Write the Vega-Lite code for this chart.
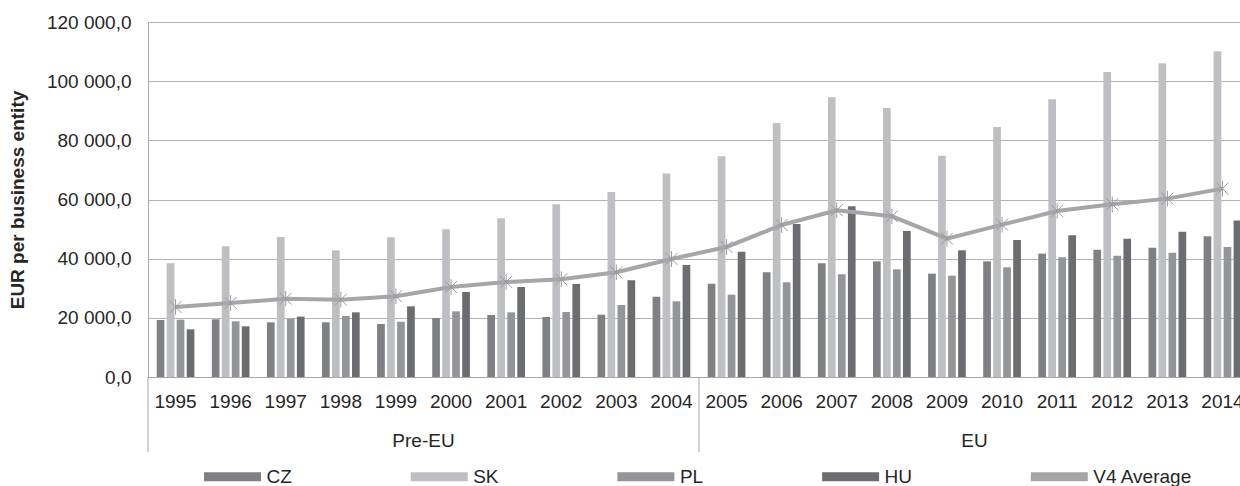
{
  "$schema": "https://vega.github.io/schema/vega-lite/v6.json",
  "width": 1102,
  "height": 355,
  "autosize": {"type": "none"},
  "padding": {"left": 148, "top": 22, "right": 0, "bottom": 109},
  "config": {
    "font": "Liberation Sans",
    "locale": {"number": {"decimal": ",", "thousands": " ", "grouping": [3], "currency": ["", ""]}},
    "view": {"stroke": null},
    "axis": {"labelColor": "#262626", "labelFontSize": 19, "labelFont": "Liberation Sans"}
  },
  "data": {
    "values": [
      {"year": "1995", "CZ": 19270, "SK": 38430, "PL": 19380, "HU": 16115, "avg": 23670},
      {"year": "1996", "CZ": 19500, "SK": 44180, "PL": 18820, "HU": 17130, "avg": 25020},
      {"year": "1997", "CZ": 18480, "SK": 47330, "PL": 19720, "HU": 20400, "avg": 26480},
      {"year": "1998", "CZ": 18480, "SK": 42830, "PL": 20620, "HU": 21860, "avg": 26150},
      {"year": "1999", "CZ": 17920, "SK": 47220, "PL": 18710, "HU": 23890, "avg": 27270},
      {"year": "2000", "CZ": 19950, "SK": 49930, "PL": 22200, "HU": 28740, "avg": 30430},
      {"year": "2001", "CZ": 20960, "SK": 53650, "PL": 21860, "HU": 30430, "avg": 32120},
      {"year": "2002", "CZ": 20290, "SK": 58380, "PL": 21980, "HU": 31440, "avg": 33020},
      {"year": "2003", "CZ": 21070, "SK": 62550, "PL": 24340, "HU": 32680, "avg": 35390},
      {"year": "2004", "CZ": 27160, "SK": 68750, "PL": 25580, "HU": 37870, "avg": 39900},
      {"year": "2005", "CZ": 31560, "SK": 74610, "PL": 27840, "HU": 42380, "avg": 43950},
      {"year": "2006", "CZ": 35390, "SK": 85880, "PL": 32010, "HU": 51730, "avg": 51390},
      {"year": "2007", "CZ": 38430, "SK": 94560, "PL": 34710, "HU": 57700, "avg": 56350},
      {"year": "2008", "CZ": 39110, "SK": 90950, "PL": 36400, "HU": 49360, "avg": 54320},
      {"year": "2009", "CZ": 34940, "SK": 74830, "PL": 34260, "HU": 42830, "avg": 46770},
      {"year": "2010", "CZ": 39110, "SK": 84530, "PL": 37080, "HU": 46320, "avg": 51500},
      {"year": "2011", "CZ": 41700, "SK": 93880, "PL": 40460, "HU": 47900, "avg": 56120},
      {"year": "2012", "CZ": 43050, "SK": 103120, "PL": 41020, "HU": 46770, "avg": 58380},
      {"year": "2013", "CZ": 43730, "SK": 106050, "PL": 42040, "HU": 49140, "avg": 60290},
      {"year": "2014", "CZ": 47560, "SK": 110110, "PL": 43950, "HU": 52860, "avg": 63680}
    ]
  },
  "layer": [
    {
      "transform": [{"fold": ["CZ", "SK", "PL", "HU"], "as": ["series", "value"]}],
      "mark": {"type": "bar"},
      "encoding": {
        "x": {
          "field": "year", "type": "ordinal",
          "scale": {"type": "band", "paddingInner": 0, "paddingOuter": 0},
          "axis": {"orient": "bottom", "title": null, "labelAngle": 0, "ticks": false, "domain": true, "domainColor": "#a6a6a6", "domainWidth": 1, "labelPadding": 15, "grid": false}
        },
        "xOffset": {"field": "series", "sort": ["CZ", "SK", "PL", "HU"], "scale": {"paddingInner": 0.23, "paddingOuter": 0.87}},
        "y": {
          "field": "value", "type": "quantitative",
          "scale": {"domain": [0, 120000]},
          "axis": {"title": "EUR per business entity", "titleFontSize": 19, "titleFontWeight": "bold", "titleColor": "#262626", "titlePadding": 19, "values": [0, 20000, 40000, 60000, 80000, 100000, 120000], "format": ",.1f", "ticks": false, "labelPadding": 17, "domainColor": "#a6a6a6", "gridColor": "#b4b4b4", "gridWidth": 1}
        },
        "color": {
          "field": "series", "type": "nominal",
          "scale": {"domain": ["CZ", "SK", "PL", "HU", "V4 Average"], "range": ["#7f8084", "#bebfc2", "#949598", "#6c6d71", "#a6a6a9"]},
          "legend": {
            "title": null, "orient": "none", "legendX": 56, "legendY": 426, "direction": "horizontal", "columns": 5, "columnPadding": 118.7,
            "symbolSize": 3249, "symbolOffset": 0, "labelOffset": 5.5, "labelFontSize": 19, "labelColor": "#262626", "padding": 0,
            "symbolType": "M-1,-0.158L1,-0.158L1,0.158L-1,0.158Z", "symbolStrokeWidth": 0, "symbolOpacity": 1
          }
        }
      }
    },
    {
      "mark": {"type": "line", "strokeWidth": 4, "color": "#a6a6a9"},
      "encoding": {
        "x": {"field": "year", "type": "ordinal"},
        "y": {"field": "avg", "type": "quantitative"}
      }
    },
    {
      "mark": {"type": "point", "shape": "M-1,-1L1,1M-1,1L1,-1M0,-1.3L0,1.3", "size": 144, "color": "#9a9a9c", "strokeWidth": 1, "filled": false, "opacity": 1},
      "encoding": {
        "x": {"field": "year", "type": "ordinal"},
        "y": {"field": "avg", "type": "quantitative"}
      }
    },
    {
      "data": {"values": [{"year": "1995"}, {"year": "2005"}]},
      "mark": {"type": "rule", "color": "#a6a6a6", "strokeWidth": 1},
      "encoding": {
        "x": {"field": "year", "type": "ordinal", "bandPosition": 0},
        "y": {"datum": 0},
        "y2": {"datum": -25350}
      }
    },
    {
      "data": {"values": [{"year": "2000", "label": "Pre-EU"}, {"year": "2010", "label": "EU"}]},
      "mark": {"type": "text", "fontSize": 19, "color": "#262626", "baseline": "middle", "align": "center"},
      "encoding": {
        "x": {"field": "year", "type": "ordinal", "bandPosition": 0},
        "y": {"datum": -21630},
        "text": {"field": "label"}
      }
    }
  ]
}
